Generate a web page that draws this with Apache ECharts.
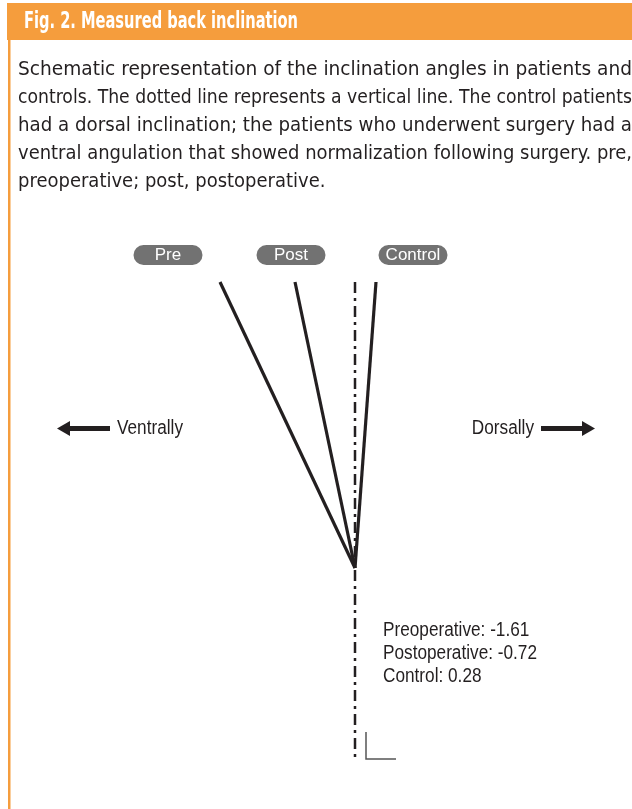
<!DOCTYPE html>
<html>
<head>
<meta charset="utf-8">
<script src="https://cdn.jsdelivr.net/npm/echarts@6/dist/echarts.min.js"></script>
<style>
  html, body { margin: 0; padding: 0; background: #fff; }
  #chart { width: 632px; height: 809px; }
</style>
</head>
<body>
<div id="chart"></div>
<script>
// groups and measured mean inclination
const groups = ['Pre', 'Post', 'Control']
const fullNames = ['Preoperative', 'Postoperative', 'Control']
const inclination = [-1.61, -0.72, 0.28]
// schematic line tips (horizontal offset from the vertex)
const tipOffset = [-135, -60, 21]
const tipHeight = 286
// pill label positions above the lines
const pillOffset = [-187, -64, 58]
const pillHeight = 313
// the vertical reference line
const vertical = [[0, tipHeight], [0, -192]]

const captionLines = [
  'Schematic representation of the inclination angles in patients and',
  'controls. The dotted line represents a vertical line. The control patients',
  'had a dorsal inclination; the patients who underwent surgery had a',
  'ventral angulation that showed normalization following surgery. pre,',
  'preoperative; post, postoperative.'
]

const cond = '"DejaVu Sans Condensed", sans-serif'
const helv = '"Liberation Sans", Arial, sans-serif'
const orange = '#F59D3D'
const ink = '#231f20'

// squeeze text horizontally so it takes the width it has in the figure
const measure = document.createElement('canvas').getContext('2d')
function fit (text, font, width) {
  measure.font = font
  return width / measure.measureText(text).width
}

const titleFont = 'bold 23.5px ' + cond
const captionFont = '19.5px ' + cond
const noteFont = '20px ' + helv
const capScales = captionLines.slice(0, 4).map(t => fit(t, captionFont, 614))
const lastScale = capScales.reduce((a, b) => a + b, 0) / capScales.length
const noteScale = fit('Postoperative: -0.72', noteFont, 154)

const myChart = echarts.init(document.getElementById('chart'))

const series = groups.map((g, i) => ({
  name: g,
  type: 'line',
  data: [[0, 0], [tipOffset[i], tipHeight]],
  symbol: 'none',
  silent: true,
  lineStyle: { color: ink, width: 3.2 },
  z: 3
}))

series.push({
  name: 'vertical',
  type: 'line',
  data: vertical,
  symbol: 'none',
  silent: true,
  lineStyle: { color: ink, width: 2.5, type: [11, 5, 3, 5] },
  z: 2
})

series.push({
  name: 'pills',
  type: 'scatter',
  data: pillOffset.map((x, i) => ({ value: [x, pillHeight], name: groups[i] })),
  symbolSize: 0,
  silent: true,
  itemStyle: { opacity: 1 },
  label: {
    show: true,
    position: 'inside',
    formatter: '{b}',
    color: '#fff',
    fontSize: 17,
    fontFamily: helv,
    backgroundColor: '#727272',
    borderRadius: 10,
    width: 69,
    height: 20,
    lineHeight: 20,
    align: 'center',
    verticalAlign: 'middle'
  }
})

const option = {
  animation: false,
  grid: { left: 0, right: 0, top: 0, bottom: 0 },
  xAxis: { type: 'value', min: -355, max: 277, show: false },
  yAxis: { type: 'value', min: -241, max: 568, show: false },
  series,
  graphic: [
    // header bar
    { type: 'rect', shape: { x: 7, y: 3, width: 625, height: 37 }, style: { fill: orange } },
    {
      type: 'text', x: 24, y: 22,
      scaleX: fit('Fig. 2. Measured back inclination', titleFont, 274),
      style: { text: 'Fig. 2. Measured back inclination', fill: '#fff', font: titleFont, verticalAlign: 'middle' }
    },
    { type: 'rect', shape: { x: 8, y: 40, width: 2.5, height: 769 }, style: { fill: orange } },
    // caption
    ...captionLines.map((t, i) => ({
      type: 'text', x: 18, y: 70 + i * 28,
      scaleX: i < 4 ? capScales[i] : lastScale,
      style: { text: t, fill: ink, font: captionFont, verticalAlign: 'middle' }
    })),
    // direction arrows
    { type: 'rect', shape: { x: 68, y: 426, width: 42, height: 5 }, style: { fill: ink } },
    { type: 'polygon', shape: { points: [[57, 428.5], [70, 421], [70, 436]] }, style: { fill: ink } },
    {
      type: 'text', x: 117, y: 428, scaleX: noteScale,
      style: { text: 'Ventrally', fill: ink, font: noteFont, verticalAlign: 'middle' }
    },
    { type: 'rect', shape: { x: 541, y: 426, width: 42, height: 5 }, style: { fill: ink } },
    { type: 'polygon', shape: { points: [[595, 428.5], [582, 421], [582, 436]] }, style: { fill: ink } },
    {
      type: 'text', x: 534, y: 428, scaleX: noteScale,
      style: { text: 'Dorsally', fill: ink, font: noteFont, verticalAlign: 'middle', align: 'right' }
    },
    // values
    ...fullNames.map((n, i) => ({
      type: 'text', x: 383, y: 630 + i * 23, scaleX: noteScale,
      style: { text: n + ': ' + inclination[i], fill: ink, font: noteFont, verticalAlign: 'middle' }
    })),
    // small angle mark
    {
      type: 'polyline', shape: { points: [[366, 732], [366, 759], [396, 759]] },
      style: { stroke: '#555', lineWidth: 1.5, fill: null }
    }
  ]
}

myChart.setOption(option)
</script>
</body>
</html>
